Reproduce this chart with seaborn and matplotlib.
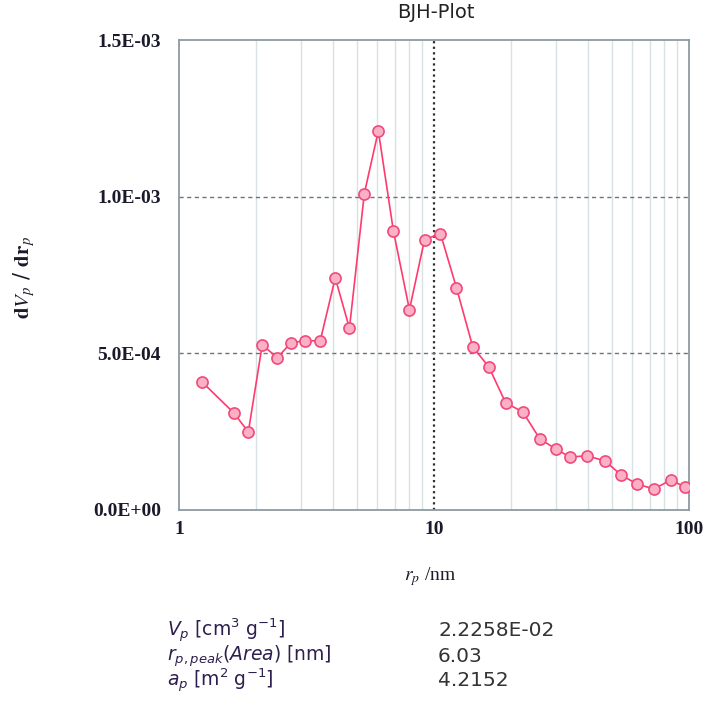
import numpy as np
import seaborn as sns
import matplotlib.pyplot as plt
from matplotlib.ticker import FixedLocator, NullFormatter

# BJH pore size distribution
radius_nm = [1.23, 1.64, 1.87, 2.12, 2.43, 2.75, 3.13, 3.58, 4.10, 4.66, 5.33,
             6.05, 6.93, 8.01, 9.18, 10.6, 12.25, 14.2, 16.4, 19.1, 22.3, 26.0,
             30.0, 34.1, 39.7, 46.8, 54.1, 62.5, 72.8, 85.0, 96.4]
dv_dr = [4.09e-4, 3.10e-4, 2.49e-4, 5.27e-4, 4.86e-4, 5.34e-4, 5.40e-4, 5.40e-4,
         7.41e-4, 5.80e-4, 1.01e-3, 1.21e-3, 8.91e-4, 6.39e-4, 8.63e-4, 8.82e-4,
         7.09e-4, 5.20e-4, 4.57e-4, 3.42e-4, 3.13e-4, 2.27e-4, 1.95e-4, 1.69e-4,
         1.73e-4, 1.57e-4, 1.12e-4, 8.3e-5, 6.7e-5, 9.6e-5, 7.3e-5]

x_ticks = [1, 10, 100]
x_ticklabels = ["1", "10", "100"]
y_ticks = [0, 5e-4, 1e-3, 1.5e-3]
y_ticklabels = ["0.0E+00", "5.0E-04", "1.0E-03", "1.5E-03"]

summary_labels = [r"$V_p$ [cm$^3$ g$^{-1}$]",
                  r"$r_{p,peak}$($Area$) [nm]",
                  r"$a_p$ [m$^2$ g$^{-1}$]"]
summary_values = ["2.2258E-02", "6.03", "4.2152"]

sns.set_style("white")
plt.rcParams["mathtext.fontset"] = "stix"

fig = plt.figure(figsize=(7.13, 7.05), dpi=100)
ax = fig.add_axes([179 / 713, 1 - 510 / 705, 510 / 713, 470 / 705])

ax.set_xscale("log")
ax.set_xlim(1, 100)
ax.set_ylim(0, 1.5e-3)

# grid: light minor verticals, dotted line at 10, dashed horizontals
minor = [m * d for d in (1, 10) for m in range(2, 10)]
for xv in minor:
    ax.axvline(xv, color="#d8e1e4", lw=1.0, zorder=0)
ax.axvline(10, color="#2b2f33", lw=1.6, ls=(0, (1, 1.5)), zorder=1)
for yv in (5e-4, 1e-3):
    ax.axhline(yv, color="#6f7478", lw=1.0, ls=(0, (3, 2.5)), zorder=1)

sns.lineplot(x=radius_nm, y=dv_dr, ax=ax, color="#ff3a6c", lw=1.2,
             marker="o", markersize=8, markerfacecolor="#fbb0c6",
             markeredgecolor="#f04a7c", markeredgewidth=1.2, zorder=3)

ax.xaxis.set_major_locator(FixedLocator(x_ticks))
ax.set_xticklabels(x_ticklabels)
ax.xaxis.set_minor_formatter(NullFormatter())
ax.set_yticks(y_ticks)
ax.set_yticklabels(y_ticklabels)
ax.tick_params(axis="y", which="both", length=0, pad=13)
ax.tick_params(axis="x", which="both", length=0, pad=8)
for lab in ax.get_xticklabels() + ax.get_yticklabels():
    lab.set_family("Liberation Serif")
    lab.set_fontweight("bold")
    lab.set_fontsize(14)
    lab.set_color("#1a1a2a")
ax.set_xlabel("")
ax.set_ylabel("")

for side in ("top", "right", "left", "bottom"):
    ax.spines[side].set_color("#8c9ba2")
    ax.spines[side].set_linewidth(1.3)

fig.text(436 / 713, 1 - 13 / 705, "BJH-Plot", ha="center", va="center",
         family="DejaVu Sans", fontsize=14, color="#222222")
fig.text(24 / 713, 1 - 277 / 705, r"$\mathbf{d}\mathit{V}_{p}$ / $\mathbf{d}\mathbf{r}_{p}$",
         rotation=90, ha="center", va="center", fontsize=15, color="#1a1a2a")
fig.text(430 / 713, 1 - 577 / 705, r"$r_p$ /nm", ha="center", va="center",
         family="Liberation Serif", fontsize=14, color="#1a1a2a")

row_y = [631, 656, 681]
for lab, val, yy in zip(summary_labels, summary_values, row_y):
    fig.text(167 / 713, 1 - yy / 705, lab, ha="left", va="center",
             family="DejaVu Sans", math_fontfamily="dejavusans",
             fontsize=13.5, color="#2e1f4f")
    fig.text(438 / 713, 1 - yy / 705, val, ha="left", va="center",
             family="DejaVu Sans", fontsize=14.5, color="#333333")

fig.savefig("out.png", dpi=100)
